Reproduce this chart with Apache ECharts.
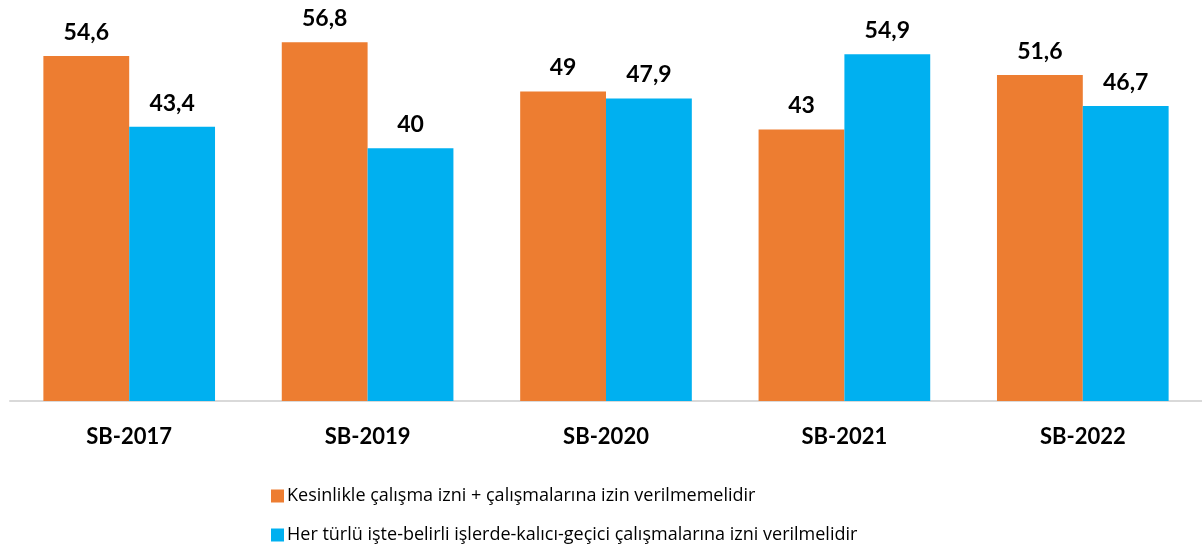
<!DOCTYPE html>
<html>
<head>
<meta charset="utf-8">
<script src="https://cdn.jsdelivr.net/npm/echarts@6/dist/echarts.min.js"></script>
<style>
  html, body { margin: 0; padding: 0; background: #fff; }
  #chart { width: 1202px; height: 550px; }
</style>
</head>
<body>
<div id="chart"></div>
<script>
const categories = ['SB-2017', 'SB-2019', 'SB-2020', 'SB-2021', 'SB-2022'];
const seriesNames = [
  'Kesinlikle çalışma izni + çalışmalarına izin verilmemelidir',
  'Her türlü işte-belirli işlerde-kalıcı-geçici çalışmalarına izni verilmelidir'
];
const againstValues = [54.6, 56.8, 49, 43, 51.6];
const forValues = [43.4, 40, 47.9, 54.9, 46.7];

const font = 'Lato, "Open Sans", sans-serif';
const chart = echarts.init(document.getElementById('chart'));

const label = {
  show: true,
  position: 'top',
  distance: 12,
  color: '#000',
  fontWeight: 'bold',
  fontSize: 23,
  fontFamily: font,
  formatter: p => String(p.value).replace('.', ',')
};

chart.setOption({
  animation: false,
  color: ['#ED7D31', '#00B0F0'],
  grid: { left: 10, right: 0, top: 22, bottom: 149, containLabel: false },
  legend: {
    orient: 'vertical',
    left: 266,
    top: 482,
    itemWidth: 13,
    itemHeight: 13,
    itemGap: 21,
    icon: 'rect',
    textStyle: { fontSize: 18, color: '#000', fontFamily: '"Open Sans", sans-serif', padding: [0, 0, 0, -2] }
  },
  xAxis: {
    type: 'category',
    data: categories,
    axisLine: { lineStyle: { color: '#D9D9D9', width: 2 } },
    axisTick: { show: false },
    axisLabel: { color: '#000', fontWeight: 'bold', fontSize: 22, fontFamily: font, margin: 25 }
  },
  yAxis: {
    type: 'value',
    min: 0,
    max: 60,
    show: false
  },
  series: [
    { name: seriesNames[0], type: 'bar', data: againstValues, barGap: '0%', barCategoryGap: '28%', label },
    { name: seriesNames[1], type: 'bar', data: forValues, label }
  ]
});
</script>
</body>
</html>
